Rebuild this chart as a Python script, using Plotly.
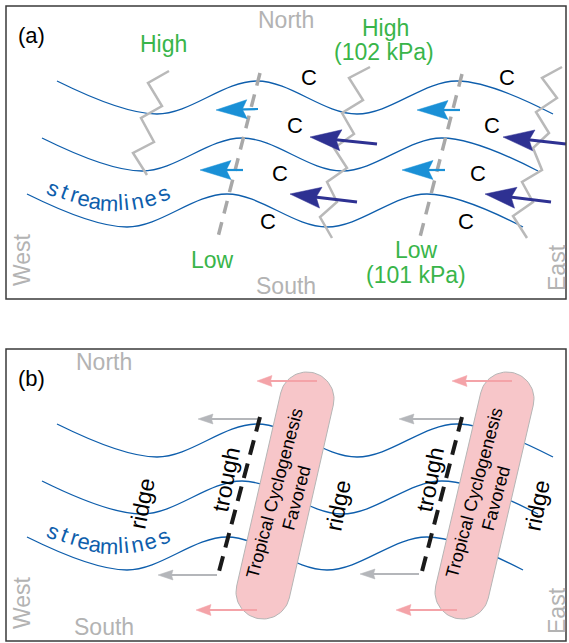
import numpy as np
import plotly.graph_objects as go

W, H = 569, 643
FONT = "Liberation Sans, Arial, Helvetica, sans-serif"

# ---------------- data (pixel-space schematic) ----------------
PANEL_LABELS = ["(a)", "(b)"]
PANEL_TOP = [6, 349]
PANEL_BOTTOM = [299, 641]
PANEL_LEFT = 6
PANEL_RIGHT = 566
B_SHIFT = 343  # vertical offset of panel (b) content

# streamlines: first crest x, crest y, trough y
STREAM_X0 = [57, 42, 27]
STREAM_CREST_Y = [81, 138, 194]
STREAM_TROUGH_Y = [114, 171, 227]
STREAM_HALF_WAVE = 100
STREAM_LENGTH = 496

# ridge zigzags in panel (a)
ZIG_X = [[169, 148, 162, 141, 154, 133, 147],
         [370, 349, 363, 342, 354, 334, 347, 327, 337, 320, 332],
         [562, 542, 557, 536, 549, 533, 542, 522, 533, 513, 527]]
ZIG_Y = [[71, 83, 106, 118, 142, 153, 175],
         [67, 78, 100, 113, 134, 148, 168, 182, 202, 217, 238],
         [67, 78, 98, 112, 133, 148, 170, 182, 202, 216, 238]]

# trough axes
TROUGH_A_X = [[260, 218], [462, 420]]
TROUGH_A_Y = [[73, 237], [74, 237]]
TROUGH_B_X = [[260, 217], [462, 420]]
TROUGH_B_Y = [[417, 579], [417, 579]]

# arrows: tip / tail
LB_TIP = [(216, 110), (200, 170), (417, 110), (402, 170)]
LB_TAIL = [(258, 109), (243, 170), (460, 110), (445, 170)]
NAVY_TIP = [(310, 137), (290, 194), (503, 137), (485, 194)]
NAVY_TAIL = [(377, 144), (357, 202), (566, 144), (551, 202)]
GRAY_TIP = [(198, 419), (158, 575), (399, 419), (360, 574)]
GRAY_TAIL = [(258, 419), (217, 575), (462, 419), (419, 574)]
PINK_TIP = [(257, 381), (452, 381), (196, 610), (396, 610)]
PINK_TAIL = [(317, 381), (512, 381), (257, 610), (457, 610)]

# pills (cyclogenesis favoured regions)
PILL_TOP = [(307, 399), (507, 399)]
PILL_BOT = [(263, 592), (462, 592)]
PILL_R = 27

# text
C_X = [309, 295, 280, 268, 507, 492, 478, 466]
C_Y = [77, 125, 173, 221, 77, 125, 173, 221]
SL_CHARS = list("streamlines")
SL_X = [53, 65, 74.5, 84, 95, 108.5, 120, 126, 137, 150, 163.5]
SL_Y = [188, 191, 194.5, 198, 201.5, 203, 202.5, 202, 201, 198, 193.5]
SL_ANGLE = [24, 21, 17, 13, 8, 2, -3, -6, -11, -18, -25]
RIDGE_X = [142, 338, 537]
RIDGE_Y = [504, 506, 506]
TROUGH_LBL_X = [226, 430]
TROUGH_LBL_Y = [480, 480]

# colours
GRAY_TXT = "#b3b3b3"
GREEN = "#39b54a"
LBLUE = "#1a90d6"
NAVY = "#2e3192"
SBLUE = "#0e5eac"
PINK_FILL = "#f7c6c9"
PINK_ARROW = "#f4a3a8"
GRAY_ARROW = "#b4b6ba"

fig = go.Figure()


def line(xs, ys, color, width, dash=None, shape="linear"):
    fig.add_trace(go.Scatter(x=xs, y=ys, mode="lines",
                             line=dict(color=color, width=width, dash=dash, shape=shape, smoothing=1),
                             hoverinfo="skip", showlegend=False))


def poly(xs, ys, fill, outline=None, width=0.5):
    fig.add_trace(go.Scatter(x=xs, y=ys, mode="lines", fill="toself", fillcolor=fill,
                             line=dict(color=outline or fill, width=width),
                             hoverinfo="skip", showlegend=False))


def arrow(tip, tail, color, shaft_w, head_len, head_w, notch=0.15):
    tip = np.array(tip, float)
    tail = np.array(tail, float)
    d = tip - tail
    u = d / np.hypot(*d)
    n = np.array([-u[1], u[0]])
    base = tip - u * head_len
    shaft_end = tip - u * head_len * 0.6
    line([tail[0], shaft_end[0]], [tail[1], shaft_end[1]], color, shaft_w)
    p1 = base + n * head_w / 2
    p2 = tip - u * head_len * (1 - notch)
    p3 = base - n * head_w / 2
    poly([tip[0], p1[0], p2[0], p3[0], tip[0]], [tip[1], p1[1], p2[1], p3[1], tip[1]], color)


def streamlines(dy):
    for x0, yc, yt in zip(STREAM_X0, STREAM_CREST_Y, STREAM_TROUGH_Y):
        xs, ys = [], []
        for k in range(5):
            xs.append(x0 + k * STREAM_HALF_WAVE)
            ys.append((yc if k % 2 == 0 else yt) + dy)
        xs.append(x0 + STREAM_LENGTH)
        ys.append(yt + dy)
        line(xs, ys, SBLUE, 1.3, shape="spline")


# ---------------- panel (a) ----------------
streamlines(0)
for zx, zy in zip(ZIG_X, ZIG_Y):
    line(zx, zy, "#b9b9b9", 2.5)
for tx, ty in zip(TROUGH_A_X, TROUGH_A_Y):
    line(tx, ty, "#a8a8a8", 3.5, dash="13px,9px")
for tip, tail in zip(LB_TIP, LB_TAIL):
    arrow(tip, tail, LBLUE, 2.2, 31, 19)
for tip, tail in zip(NAVY_TIP, NAVY_TAIL):
    arrow(tip, tail, NAVY, 3, 31, 21)

# ---------------- panel (b) ----------------
streamlines(B_SHIFT)
for tip, tail in zip(GRAY_TIP, GRAY_TAIL):
    arrow(tip, tail, GRAY_ARROW, 2, 15, 10, notch=0.1)
for tx, ty in zip(TROUGH_B_X, TROUGH_B_Y):
    line(tx, ty, "#1a1a1a", 4, dash="15px,9px")
for top, bot in zip(PILL_TOP, PILL_BOT):
    top = np.array(top, float)
    bot = np.array(bot, float)
    d = bot - top
    u = d / np.hypot(*d)
    n = np.array([-u[1], u[0]])
    a0 = np.arctan2(n[1], n[0])
    t1 = np.linspace(a0, a0 - np.pi, 40)
    t2 = np.linspace(a0 - np.pi, a0 - 2 * np.pi, 40)
    xs = list(bot[0] + PILL_R * np.cos(t1)) + list(top[0] + PILL_R * np.cos(t2))
    ys = list(bot[1] + PILL_R * np.sin(t1)) + list(top[1] + PILL_R * np.sin(t2))
    xs.append(xs[0]); ys.append(ys[0])
    poly(xs, ys, PINK_FILL, "#b5b5b5", 1)
for tip, tail in zip(PINK_TIP, PINK_TAIL):
    arrow(tip, tail, PINK_ARROW, 2, 15, 11, notch=0.1)

# ---------------- annotations ----------------
ann = []


def txt(x, y, s, color="black", size=23, angle=0):
    ann.append(dict(x=x, y=y, text=s, showarrow=False, xanchor="center", yanchor="middle",
                    textangle=angle, font=dict(family=FONT, size=size, color=color)))


txt(31, 35, PANEL_LABELS[0], size=22)
txt(31, 378, PANEL_LABELS[1], size=22)
for k, (ny, sy, wy, ey) in enumerate([(20, 286, 260, 268), (362, 627, 603, 611)]):
    nx = 286 if k == 0 else 104
    txt(nx, ny, "North", GRAY_TXT, 23)
    txt(nx, sy, "South", GRAY_TXT, 23)
    txt(22, wy, "West", GRAY_TXT, 23, -90)
    txt(557, ey, "East", GRAY_TXT, 23, -90)

txt(163, 44, "High", GREEN, 23)
txt(385, 28, "High", GREEN, 23)
txt(384, 52, "(102 kPa)", GREEN, 23)
txt(212, 260, "Low", GREEN, 23)
txt(416, 250, "Low", GREEN, 23)
txt(416, 275, "(101 kPa)", GREEN, 23)
for cx, cy in zip(C_X, C_Y):
    txt(cx, cy, "C", "black", 22)

for dy in [0, B_SHIFT]:
    for ch, x, y, a in zip(SL_CHARS, SL_X, SL_Y, SL_ANGLE):
        txt(x, y + dy, ch, SBLUE, 22, a)

for x, y in zip(RIDGE_X, RIDGE_Y):
    txt(x, y, "ridge", "black", 23, -79)
for x, y in zip(TROUGH_LBL_X, TROUGH_LBL_Y):
    txt(x, y, "trough", "black", 23, -79)

for top, bot in zip(PILL_TOP, PILL_BOT):
    top = np.array(top, float)
    bot = np.array(bot, float)
    c = (top + bot) / 2
    d = bot - top
    u = d / np.hypot(*d)
    n = np.array([-u[1], u[0]])  # points left/up
    p1 = c + n * 10.5
    p2 = c - n * 12
    txt(p1[0], p1[1], "Tropical Cyclogenesis", "black", 18, -75)
    txt(p2[0], p2[1], "Favored", "black", 18, -75)

shapes = []
for t, b in zip(PANEL_TOP, PANEL_BOTTOM):
    shapes.append(dict(type="rect", xref="x", yref="y", x0=PANEL_LEFT, x1=PANEL_RIGHT, y0=t, y1=b,
                       line=dict(color="#3a3a3a", width=1.5), layer="above"))

fig.update_layout(
    width=W, height=H, margin=dict(l=0, r=0, t=0, b=0),
    paper_bgcolor="white", plot_bgcolor="white",
    xaxis=dict(range=[0, W], visible=False, fixedrange=True),
    yaxis=dict(range=[H, 0], visible=False, fixedrange=True),
    annotations=ann, shapes=shapes, showlegend=False,
)
fig.write_html("out.html", config={"displayModeBar": False},
               post_script="document.body.style.margin='0';document.body.style.overflow='hidden';")
